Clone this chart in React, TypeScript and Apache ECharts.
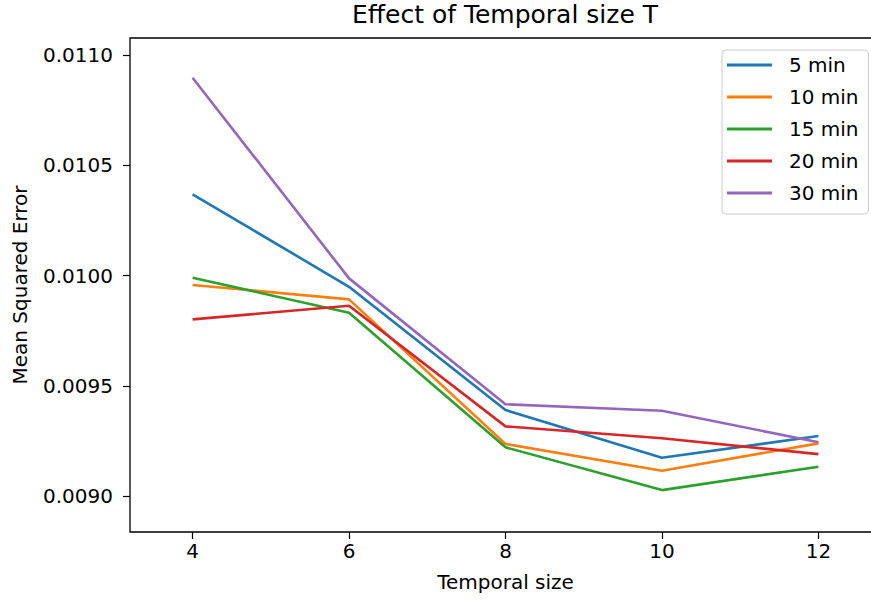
import React, { useEffect, useRef } from "react";
import * as echarts from "echarts";

const temporalSizes = [4, 6, 8, 10, 12];
const seriesNames = ["5 min", "10 min", "15 min", "20 min", "30 min"];
const mse5 = [0.010368, 0.009949, 0.00939, 0.009174, 0.009272];
const mse10 = [0.009957, 0.009892, 0.009236, 0.009115, 0.009239];
const mse15 = [0.00999, 0.009831, 0.009221, 0.009027, 0.009133];
const mse20 = [0.009801, 0.009863, 0.009316, 0.009262, 0.00919];
const mse30 = [0.010897, 0.009987, 0.009416, 0.009387, 0.009244];
const yTicks = [0.009, 0.0095, 0.01, 0.0105, 0.011];
const xTicks = [4, 6, 8, 10, 12];
const colors = ["#1f77b4", "#ff7f0e", "#2ca02c", "#d62728", "#9467bd"];

const FONT = "DejaVu Sans";

export default function App() {
  const ref = useRef<HTMLDivElement>(null);
  useEffect(() => {
    if (!ref.current) return;
    const chart = echarts.init(ref.current, null, { renderer: "svg" });
    const allSeries = [mse5, mse10, mse15, mse20, mse30];
    chart.setOption({
      animation: false,
      backgroundColor: "#fff",
      title: {
        text: "Effect of Temporal size T",
        left: 505,
        top: 2,
        textAlign: "center",
        padding: 0,
        textStyle: { fontFamily: FONT, fontSize: 25, fontWeight: "normal", color: "#000" },
      },
      legend: {
        left: 722,
        top: 50,
        orient: "vertical",
        data: seriesNames.map((n) => ({ name: n, icon: "rect" })),
        itemWidth: 45,
        itemHeight: 3,
        itemGap: 12,
        padding: [5, 10, 11, 5],
        borderColor: "#cccccc",
        borderWidth: 1,
        borderRadius: 4,
        backgroundColor: "#fff",
        textStyle: {
          fontFamily: FONT,
          fontSize: 20,
          color: "#000",
          lineHeight: 20,
          padding: [0, 0, 0, 12],
        },
      },
      grid: {
        left: 130,
        top: 38,
        bottom: 68,
        right: 9,
        show: true,
        borderColor: "#000",
        borderWidth: 1.3,
        containLabel: false,
      },
      xAxis: {
        type: "value",
        min: 3.2,
        max: 12.8,
        name: "Temporal size",
        nameLocation: "middle",
        nameGap: 40,
        nameTextStyle: { fontFamily: FONT, fontSize: 20, color: "#000" },
        splitLine: { show: false },
        axisLine: { show: false },
        axisTick: {
          show: true,
          customValues: xTicks,
          length: 7,
          lineStyle: { color: "#000", width: 1.2 },
        },
        axisLabel: {
          customValues: xTicks,
          margin: 9,
          fontFamily: FONT,
          fontSize: 20,
          color: "#000",
        },
      },
      yAxis: {
        type: "value",
        min: 0.008837,
        max: 0.011077,
        name: "Mean Squared Error",
        nameLocation: "middle",
        nameGap: 100,
        nameTextStyle: { fontFamily: FONT, fontSize: 20, color: "#000" },
        splitLine: { show: false },
        axisLine: { show: false },
        axisTick: {
          show: true,
          customValues: yTicks,
          length: 7,
          lineStyle: { color: "#000", width: 1.2 },
        },
        axisLabel: {
          customValues: yTicks,
          margin: 17,
          fontFamily: FONT,
          fontSize: 20,
          color: "#000",
          formatter: (v: number) => v.toFixed(4),
        },
      },
      series: seriesNames.map((name, i) => ({
        name,
        type: "line",
        data: temporalSizes.map((x, j) => [x, allSeries[i][j]]),
        showSymbol: false,
        symbol: "none",
        lineStyle: { color: colors[i], width: 2.6 },
        itemStyle: { color: colors[i] },
        z: 2 + i,
      })),
    });
    return () => chart.dispose();
  }, []);
  return (
    <div style={{ position: "fixed", left: 0, top: 0, width: 871, height: 600, overflow: "hidden" }}>
      <div ref={ref} style={{ width: 890, height: 600 }} />
    </div>
  );
}
